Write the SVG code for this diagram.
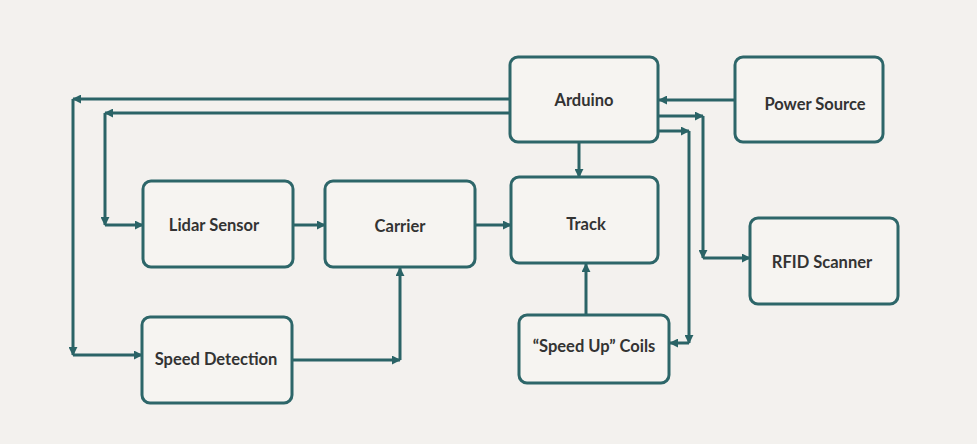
<svg xmlns="http://www.w3.org/2000/svg" width="977" height="444" viewBox="0 0 977 444">
<defs>
<marker id="ah" viewBox="0 0 10 10" refX="9" refY="5" markerWidth="9" markerHeight="9" markerUnits="userSpaceOnUse" orient="auto">
<path d="M0,0 L10,5 L0,10 z" fill="#2a6366"/>
</marker>
</defs>
<style>
.box{fill:#f6f4f1;stroke:#2d6669;stroke-width:3}
.lbl{font-family:Lato,"Liberation Sans",sans-serif;font-weight:bold;font-size:16.5px;fill:#333;text-anchor:middle;dominant-baseline:central}
.c{fill:none;stroke:#2a6366;stroke-width:3;marker-end:url(#ah)}
</style>
<rect width="977" height="444" fill="#f3f1ee"/>
<g id="connectors">
<path class="c" d="M510,99 H73"/>
<path class="c" d="M73,99 V355"/>
<path class="c" d="M73,355 H142"/>
<path class="c" d="M510,113 H105"/>
<path class="c" d="M105,113 V225"/>
<path class="c" d="M105,225 H143"/>
<path class="c" d="M293,225 H325"/>
<path class="c" d="M475,225 H511"/>
<path class="c" d="M579,142 V177"/>
<path class="c" d="M735,100 H659"/>
<path class="c" d="M658,116 H703"/>
<path class="c" d="M703,116 V258"/>
<path class="c" d="M703,258 H750"/>
<path class="c" d="M658,131 H689"/>
<path class="c" d="M689,131 V343"/>
<path class="c" d="M689,343 H670"/>
<path class="c" d="M586,315 V264"/>
<path class="c" d="M292,360 H400"/>
<path class="c" d="M400,360 V268"/>
</g>
<g id="arduino"><rect class="box" x="510" y="57" width="148" height="85" rx="8"/><text class="lbl" x="584" y="100">Arduino</text></g>
<g id="power"><rect class="box" x="735" y="57" width="148" height="85" rx="8"/><text class="lbl" x="815" y="104">Power Source</text></g>
<g id="lidar"><rect class="box" x="143" y="181" width="150" height="86" rx="8"/><text class="lbl" x="214" y="225">Lidar Sensor</text></g>
<g id="carrier"><rect class="box" x="325" y="181" width="150" height="86" rx="8"/><text class="lbl" x="400" y="226">Carrier</text></g>
<g id="track"><rect class="box" x="511" y="177" width="147" height="86" rx="8"/><text class="lbl" x="586" y="224">Track</text></g>
<g id="rfid"><rect class="box" x="750" y="218" width="148" height="86" rx="8"/><text class="lbl" x="822" y="262">RFID Scanner</text></g>
<g id="speed"><rect class="box" x="142" y="317" width="150" height="86" rx="8"/><text class="lbl" x="216" y="359">Speed Detection</text></g>
<g id="coils"><rect class="box" x="519" y="315" width="150" height="68" rx="8"/><text class="lbl" x="594" y="346">“Speed Up” Coils</text></g>
</svg>
